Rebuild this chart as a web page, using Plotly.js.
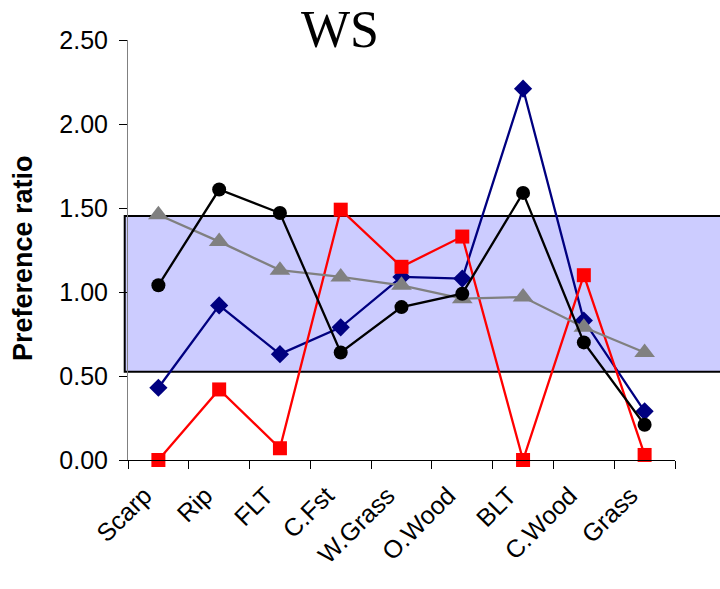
<!DOCTYPE html>
<html><head><meta charset="utf-8">
<script src="https://cdn.plot.ly/plotly-3.0.1.min.js"></script>
<style>html,body{margin:0;padding:0;background:#fff}#chart{width:720px;height:589px}</style>
</head><body><div id="chart"></div>
<script>
const categories = ["Scarp","Rip","FLT","C.Fst","W.Grass","O.Wood","BLT","C.Wood","Grass"];
const blueSeries  = [0.43, 0.92, 0.63, 0.79, 1.09, 1.08, 2.21, 0.83, 0.29];
const redSeries   = [0.00, 0.42, 0.07, 1.49, 1.15, 1.33, 0.00, 1.10, 0.03];
const graySeries  = [1.46, 1.30, 1.13, 1.09, 1.04, 0.96, 0.97, 0.79, 0.64];
const blackSeries = [1.04, 1.61, 1.47, 0.64, 0.91, 0.99, 1.59, 0.70, 0.21];
const bandLow = 0.525, bandHigh = 1.452;
const yTicks = [0, 0.5, 1.0, 1.5, 2.0, 2.5];

function tr(y, color, symbol, size){
  return {x: categories, y: y, type: 'scatter', mode: 'lines+markers',
    line: {color: color, width: 2.3}, marker: {color: color, symbol: symbol, size: size}, cliponaxis: false};
}
const data = [
  tr(blueSeries, '#000080', 'diamond', 14),
  tr(redSeries, '#ff0000', 'square', 14),
  tr(graySeries, '#808080', 'triangle-up', 18),
  tr(blackSeries, '#000000', 'circle', 14)
];
const layout = {
  width: 720, height: 589,
  margin: {l: 128, r: 45, t: 40, b: 129},
  paper_bgcolor: '#fff', plot_bgcolor: 'rgba(0,0,0,0)',
  showlegend: false,
  font: {family: 'Liberation Sans, Arial, sans-serif', size: 25, color: '#000'},
  title: {text: 'WS', font: {family: 'Liberation Serif, Times New Roman, serif', size: 52, color: '#000'},
          x: 340/720, xanchor: 'center', xref: 'container', y: 1 - 29/589, yanchor: 'middle', yref: 'container'},
  xaxis: {type: 'category', range: [-0.5, 8.5], tickangle: -45, ticks: 'outside', tickson: 'boundaries',
          ticklen: 8, tickcolor: '#000', showline: true, linecolor: '#000', linewidth: 1, showgrid: false,
          zeroline: false, tickfont: {size: 25}, ticklabelstandoff: 10, ticklabelshift: -14},
  yaxis: {range: [0, 2.5], tickvals: yTicks, tickformat: '.2f', ticks: 'outside', ticklen: 8, tickcolor: '#000',
          showline: true, linecolor: '#808080', linewidth: 1, showgrid: false, zeroline: false,
          tickfont: {size: 25}, ticklabelstandoff: 6},
  annotations: [{text: '<b>Preference ratio</b>', textangle: -90, xref: 'paper', yref: 'paper',
          x: (23 - 128) / 547, y: (460 - 258) / 420, xanchor: 'center', yanchor: 'middle', showarrow: false,
          font: {size: 27, color: '#000'}}],
  shapes: [{type: 'rect', layer: 'below', xref: 'paper', yref: 'y', x0: -0.006, x1: 1.1, y0: bandLow, y1: bandHigh,
            fillcolor: '#ccccff', line: {color: '#000', width: 2}}]
};
Plotly.newPlot('chart', data, layout, {displayModeBar: false, staticPlot: true});
</script></body></html>
